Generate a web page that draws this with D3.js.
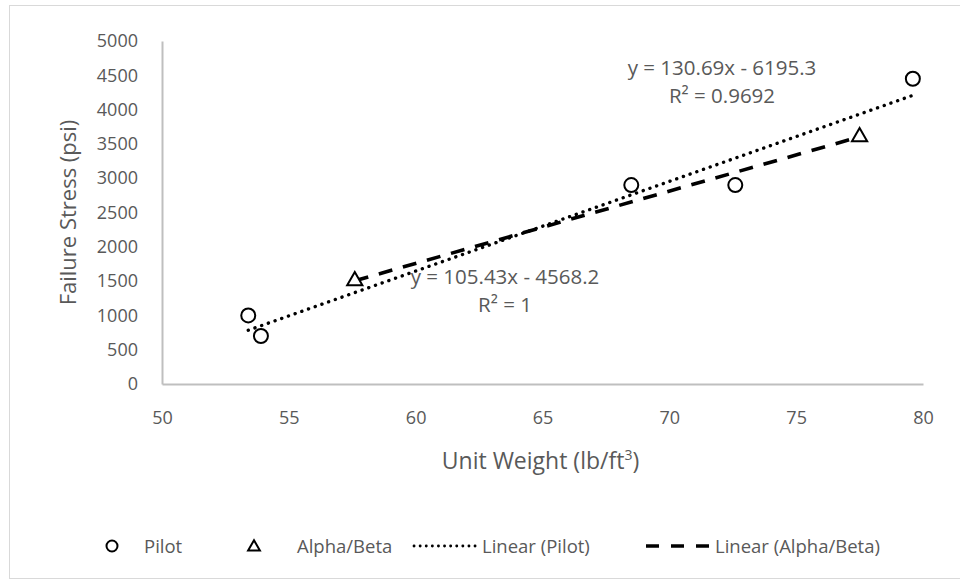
<!DOCTYPE html>
<html>
<head>
<meta charset="utf-8">
<script src="https://cdn.jsdelivr.net/npm/d3@7"></script>
<style>
  html, body { margin: 0; padding: 0; background: #fff; }
  svg { display: block; font-family: "Open Sans", "Liberation Sans", sans-serif; }
</style>
</head>
<body>
<svg id="chart" width="960" height="581"></svg>
<script>
// Unit weight (lb/ft3) vs failure stress (psi)
const pilotX = [53.4, 53.9, 68.5, 72.6, 79.6];
const pilotY = [1000, 700, 2900, 2900, 4450];
const alphaX = [57.6, 77.5];
const alphaY = [1505, 3603];

// Linear trend lines (slope, intercept) and their labels
const pilotFit = [130.69, -6195.3];
const alphaFit = [105.43, -4568.2];
const pilotFitLabel = ["y = 130.69x - 6195.3", "R² = 0.9692"];
const alphaFitLabel = ["y = 105.43x - 4568.2", "R² = 1"];

const xTicks = [50, 55, 60, 65, 70, 75, 80];
const yTicks = [0, 500, 1000, 1500, 2000, 2500, 3000, 3500, 4000, 4500, 5000];
const legendLabels = ["Pilot", "Alpha/Beta", "Linear (Pilot)", "Linear (Alpha/Beta)"];

const svg = d3.select("#chart");
const textColor = "#595959";

// chart frame
svg.append("rect")
  .attr("x", 9.5).attr("y", 5.5).attr("width", 960).attr("height", 573)
  .attr("fill", "#fff").attr("stroke", "#d9d9d9").attr("stroke-width", 1);

const plot = { left: 162, right: 923, top: 41, bottom: 384 };
const x = d3.scaleLinear().domain([50, 80]).range([plot.left, plot.right]);
const y = d3.scaleLinear().domain([0, 5000]).range([plot.bottom, plot.top]);

// axes
const xAxis = svg.append("g")
  .attr("transform", `translate(0,${plot.bottom})`)
  .call(d3.axisBottom(x).tickValues(xTicks).tickFormat(d3.format("d")).tickSize(0).tickPadding(27));
const yAxis = svg.append("g")
  .attr("transform", `translate(${plot.left},0)`)
  .call(d3.axisLeft(y).tickValues(yTicks).tickFormat(d3.format("d")).tickSize(0).tickPadding(24));
[xAxis, yAxis].forEach(g => {
  g.select(".domain").attr("stroke", "#bfbfbf").attr("stroke-width", 2);
  g.selectAll("text").attr("fill", textColor).style("font-size", "18px")
    .style("font-family", "\"Open Sans\", sans-serif");
});

// axis titles
svg.append("text")
  .attr("x", (plot.left + plot.right) / 2 - 2).attr("y", 469)
  .attr("text-anchor", "middle").attr("fill", textColor).style("font-size", "23px")
  .html('Unit Weight (lb/ft<tspan dy="-9" font-size="14px">3</tspan><tspan dy="9">)</tspan>');
svg.append("text")
  .attr("transform", `translate(76,${(plot.top + plot.bottom) / 2}) rotate(-90)`)
  .attr("text-anchor", "middle").attr("fill", textColor).style("font-size", "22px")
  .text("Failure Stress (psi)");

// trend lines
const line = d3.line().x(d => x(d[0])).y(d => y(d[1]));
function trend(xs, fit) {
  const lo = d3.min(xs), hi = d3.max(xs);
  return [[lo, fit[0] * lo + fit[1]], [hi, fit[0] * hi + fit[1]]];
}
const dotted = { "stroke-dasharray": "0.1 7", "stroke-linecap": "round", "stroke-width": 3.4 };
const dashed = { "stroke-dasharray": "14 11", "stroke-linecap": "butt", "stroke-width": 3.6 };
function styleLine(sel, st) {
  Object.entries(st).forEach(([k, v]) => sel.attr(k, v));
  return sel.attr("fill", "none").attr("stroke", "#000");
}
styleLine(svg.append("path").attr("d", line(trend(alphaX, alphaFit))), dashed);
styleLine(svg.append("path").attr("d", line(trend(pilotX, pilotFit))), dotted);

// markers
const tri = d3.symbol().type(d3.symbolTriangle).size(100);
svg.append("g").selectAll("circle")
  .data(d3.zip(pilotX, pilotY)).join("circle")
  .attr("cx", d => x(d[0])).attr("cy", d => y(d[1])).attr("r", 7)
  .attr("fill", "#fff").attr("stroke", "#000").attr("stroke-width", 2);
svg.append("g").selectAll("path")
  .data(d3.zip(alphaX, alphaY)).join("path")
  .attr("d", tri)
  .attr("transform", d => `translate(${x(d[0])},${y(d[1])})`)
  .attr("fill", "#fff").attr("stroke", "#000").attr("stroke-width", 2);

// trend equation labels
function fitLabel(lines, cx, cy) {
  const t = svg.append("text").attr("text-anchor", "middle").attr("fill", textColor)
    .style("font-size", "20.5px");
  lines.forEach((s, i) => t.append("tspan").attr("x", cx).attr("y", cy + i * 28).text(s));
}
fitLabel(pilotFitLabel, 722, 75);
fitLabel(alphaFitLabel, 505, 284);

// legend
const ly = 546;
const lg = svg.append("g");
lg.append("circle").attr("cx", 112).attr("cy", ly).attr("r", 5.5)
  .attr("fill", "#fff").attr("stroke", "#000").attr("stroke-width", 2);
lg.append("path").attr("d", d3.symbol().type(d3.symbolTriangle).size(60))
  .attr("transform", `translate(254,${ly + 1})`)
  .attr("fill", "#fff").attr("stroke", "#000").attr("stroke-width", 2);
styleLine(lg.append("path").attr("d", `M414,${ly}H480`), { ...dotted, "stroke-dasharray": "0.1 6", "stroke-width": 2.8 });
styleLine(lg.append("path").attr("d", `M646,${ly}H713`), { ...dashed, "stroke-dasharray": "13 12" });
const legendX = [144, 297, 482, 715];
legendLabels.forEach((s, i) => {
  lg.append("text").attr("x", legendX[i]).attr("y", ly + 7)
    .attr("fill", textColor).style("font-size", "18.5px").text(s);
});
</script>
</body>
</html>
